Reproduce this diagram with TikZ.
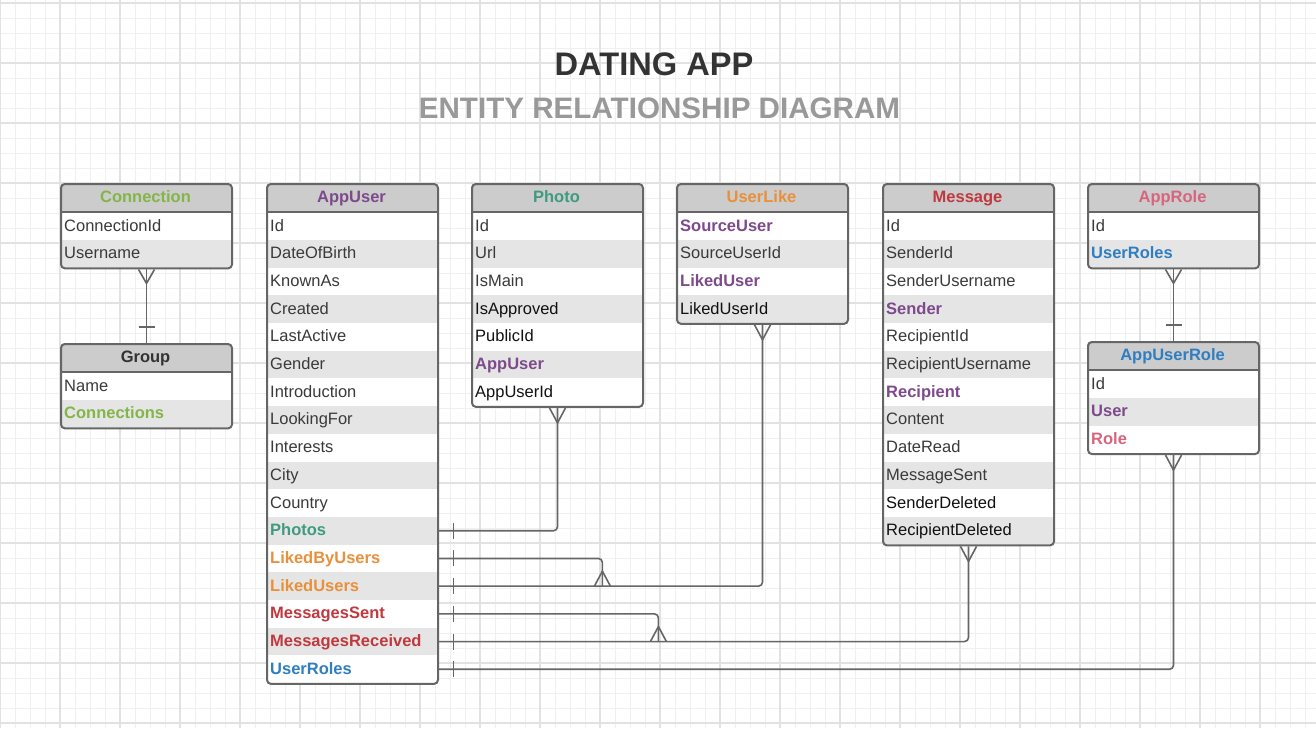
\documentclass[tikz,border=0pt]{standalone}
\usepackage{fontspec}
\setmainfont{Liberation Sans}
\usetikzlibrary{calc}
\definecolor{hdrgray}{HTML}{CCCCCC}
\definecolor{rowgray}{HTML}{E5E5E5}
\definecolor{bordergray}{HTML}{666666}
\definecolor{tdark}{HTML}{3A3A3A}
\definecolor{tblack}{HTML}{111111}
\definecolor{tpurple}{HTML}{7D4A8C}
\definecolor{tteal}{HTML}{3F9B7F}
\definecolor{torange}{HTML}{E8903A}
\definecolor{tred}{HTML}{C0393F}
\definecolor{tpink}{HTML}{D6657F}
\definecolor{tblue}{HTML}{2F7EC1}
\definecolor{tgreen}{HTML}{84B548}
\definecolor{titledark}{HTML}{333333}
\definecolor{titlegray}{HTML}{999999}
\definecolor{gridminor}{HTML}{F0F0F0}
\definecolor{gridmajor}{HTML}{E2E2E2}
\newcommand\rowfont{\fontsize{16.5}{19}\selectfont}
\tikzset{
  rowbox/.style={anchor=north west, minimum width=171pt, minimum height=27.7pt,
    text width=163pt, inner xsep=4pt, inner ysep=0pt, align=left,
    text height=12.5pt, text depth=2.5pt, font=\rowfont},
  titlebox/.style={inner sep=0pt, text height=12.5pt, text depth=2.5pt, font=\rowfont\bfseries},
  tablebox/.style={draw=bordergray, line width=2pt, rounded corners=4pt, anchor=north west,
    inner sep=0pt, minimum width=171pt},
  conn/.style={draw=bordergray, line width=1.6pt},
  connbend/.style={conn, rounded corners=4pt},
}
% #1 name, #2 x, #3 y, #4 number of rows, #5 title colour, #6 title, #7 rows
\newcommand\erTable[7]{%
  \pgfmathsetmacro\erH{29+#4*27.7}%
  \begin{scope}
    \clip[rounded corners=4pt] (#2,#3) rectangle (#2+171,#3+\erH);
    \fill[hdrgray] (#2,#3) rectangle (#2+171,#3+29);
    \foreach \rc/\rt [count=\ri] in {#7} {
      \pgfmathsetmacro\yy{#3+29+(\ri-1)*27.7}
      \ifodd\ri\relax\def\rowfill{white}\else\def\rowfill{rowgray}\fi
      \node[rowbox, fill=\rowfill, text=\rc] (#1-\ri) at (#2,\yy) {\rt};
    }
  \end{scope}
  \node[tablebox, minimum height=\erH pt] (#1) at (#2,#3) {};
  \draw[draw=bordergray, line width=2pt] (#2,#3+29) -- (#2+171,#3+29);
  \node[titlebox, text=#5] (#1-title) at (#2+85.5,#3+14.5) {#6};
}
\newcommand\manyV[2]{\draw[conn] ($#1+(-8,0)$) -- ($#1+(0,#2)$) -- ($#1+(8,0)$);}
\newcommand\oneV[2]{\draw[conn] ($#1+(-8,#2)$) -- ($#1+(8,#2)$);}
\newcommand\oneH[2]{\draw[conn] ($#1+(#2,-8)$) -- ($#1+(#2,8)$);}
\begin{document}
\begin{tikzpicture}[x=1pt,y=-1pt]
\useasboundingbox (0,0) rectangle (1316,728);
\fill[white] (0,0) rectangle (1316,728);
% grid
\foreach \gx in {0,15,...,1315} \draw[gridminor, line width=1pt] (\gx,0) -- (\gx,728);
\foreach \gy in {3,18,...,725} \draw[gridminor, line width=1pt] (0,\gy) -- (1316,\gy);
\foreach \gx in {0,60,...,1315} \draw[gridmajor, line width=1.1pt] (\gx,0) -- (\gx,728);
\foreach \gy in {3,63,...,725} \draw[gridmajor, line width=1.1pt] (0,\gy) -- (1316,\gy);
% titles
\node[anchor=base, text=titledark, font=\bfseries\fontsize{32.6}{36}\selectfont, inner sep=0pt] (title) at (654,75.7) {DATING APP};
\node[anchor=base, text=titlegray, font=\bfseries\fontsize{29.6}{34}\selectfont, inner sep=0pt] (subtitle) at (659.5,118.3) {ENTITY RELATIONSHIP DIAGRAM};
% tables
\erTable{connection}{60}{183}{2}{tgreen}{Connection}{tdark/ConnectionId, tdark/Username}
\erTable{group}{60}{343}{2}{titledark}{Group}{tdark/Name, tgreen/\bfseries Connections}
\erTable{appuser}{266}{183}{17}{tpurple}{AppUser}{tdark/Id, tdark/DateOfBirth, tdark/KnownAs, tdark/Created, tdark/LastActive, tdark/Gender, tdark/Introduction, tdark/LookingFor, tdark/Interests, tdark/City, tdark/Country, tteal/\bfseries Photos, torange/\bfseries LikedByUsers, torange/\bfseries LikedUsers, tred/\bfseries MessagesSent, tred/\bfseries MessagesReceived, tblue/\bfseries UserRoles}
\erTable{photo}{471}{183}{7}{tteal}{Photo}{tdark/Id, tdark/Url, tdark/IsMain, tblack/IsApproved, tblack/PublicId, tpurple/\bfseries AppUser, tblack/AppUserId}
\erTable{userlike}{676}{183}{4}{torange}{UserLike}{tpurple/\bfseries SourceUser, tdark/SourceUserId, tpurple/\bfseries LikedUser, tblack/LikedUserId}
\erTable{message}{882}{183}{12}{tred}{Message}{tdark/Id, tdark/SenderId, tdark/SenderUsername, tpurple/\bfseries Sender, tdark/RecipientId, tdark/RecipientUsername, tpurple/\bfseries Recipient, tdark/Content, tdark/DateRead, tdark/MessageSent, tblack/SenderDeleted, tblack/RecipientDeleted}
\erTable{approle}{1087}{183}{2}{tpink}{AppRole}{tdark/Id, tblue/\bfseries UserRoles}
\erTable{appuserrole}{1087}{341}{3}{tblue}{AppUserRole}{tdark/Id, tpurple/\bfseries User, tpink/\bfseries Role}
% connectors
\draw[conn] (connection.south) -- (group.north);
\manyV{(connection.south)}{14}
\oneV{(group.north)}{-16}
\draw[conn] (approle.south) -- (appuserrole.north);
\manyV{(approle.south)}{14}
\oneV{(appuserrole.north)}{-16}
\coordinate (likejoin) at ($(appuser-14.east)+(165,0)$);
\coordinate (msgjoin) at ($(appuser-16.east)+(221,0)$);
\draw[connbend] (appuser-12.east) -| (photo.south);
\draw[connbend] (appuser-13.east) -| (likejoin);
\draw[connbend] (appuser-14.east) -| (userlike.south);
\draw[connbend] (appuser-15.east) -| (msgjoin);
\draw[connbend] (appuser-16.east) -| (message.south);
\draw[connbend] (appuser-17.east) -| (appuserrole.south);
\foreach \k in {12,...,17} {\oneH{(appuser-\k.east)}{16}}
\manyV{(photo.south)}{15}
\manyV{(likejoin)}{-15}
\manyV{(userlike.south)}{15}
\manyV{(msgjoin)}{-15}
\manyV{(message.south)}{15}
\manyV{(appuserrole.south)}{15}
\end{tikzpicture}
\end{document}
